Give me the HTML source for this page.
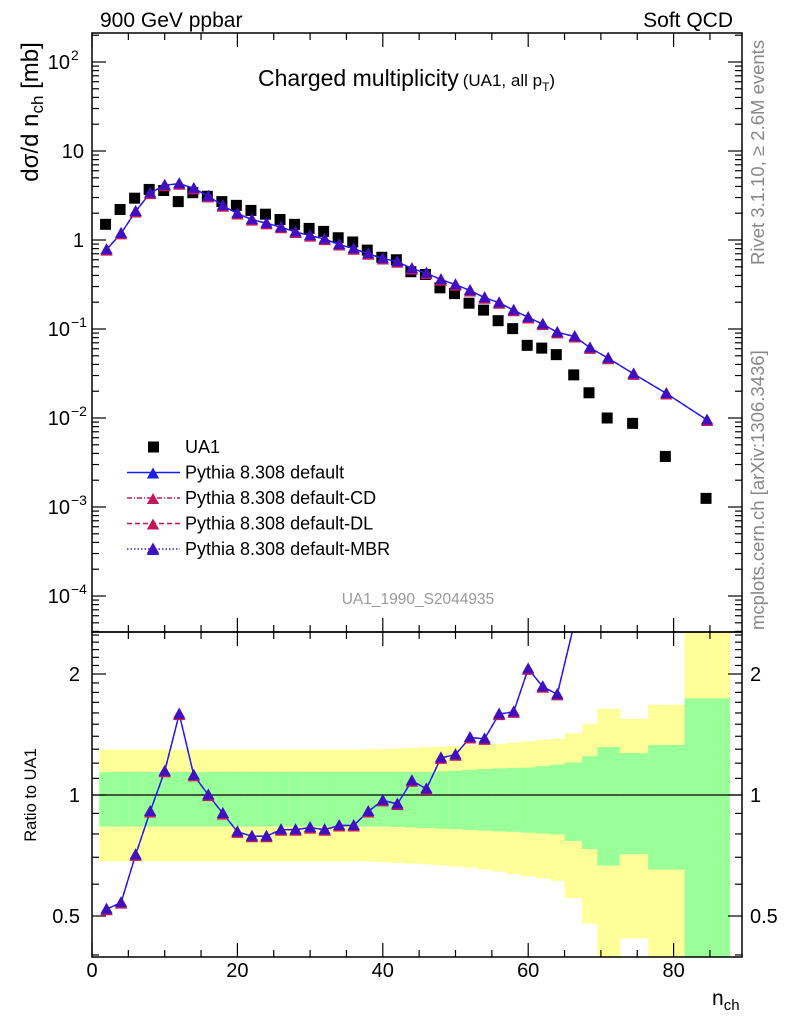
<!DOCTYPE html>
<html><head><meta charset="utf-8">
<style>
body{margin:0;background:#fff;}
svg{display:block;font-family:"Liberation Sans",sans-serif;}
</style></head>
<body>
<svg id="c" width="786" height="1024" viewBox="0 0 786 1024">
<defs>
<clipPath id="cm"><rect x="92" y="33" width="650" height="599"/></clipPath>
<clipPath id="cr"><rect x="92" y="632" width="650" height="325"/></clipPath>
</defs>
<g id="bands" clip-path="url(#cr)"></g>
<g id="ticks"></g>
<line x1="92" y1="795" x2="742" y2="795" stroke="#000" stroke-width="1.3"/>
<g id="main" clip-path="url(#cm)"></g>
<g id="ratio" clip-path="url(#cr)"></g>
<rect x="92" y="33" width="650" height="599" fill="none" stroke="#000" stroke-width="1.5"/>
<rect x="92" y="632" width="650" height="325" fill="none" stroke="#000" stroke-width="1.5"/>
<text x="100" y="27" font-size="21">900 GeV ppbar</text>
<text x="733" y="27" font-size="21" text-anchor="end">Soft QCD</text>
<text x="258" y="86" font-size="23">Charged multiplicity<tspan font-size="17" dx="4">(UA1, all p</tspan><tspan font-size="12" dy="5">T</tspan><tspan font-size="17" dy="-5">)</tspan></text>
<text transform="translate(38,112) rotate(-90)" font-size="24" text-anchor="middle">dσ/d n<tspan font-size="17" dy="5">ch</tspan><tspan dy="-5"> [mb]</tspan></text>
<text transform="translate(36,795) rotate(-90)" font-size="16.5" text-anchor="middle">Ratio to UA1</text>
<text x="712" y="1005" font-size="21">n<tspan font-size="15" dy="5">ch</tspan></text>
<text transform="translate(764,265) rotate(-90)" font-size="18.5" fill="#888">Rivet 3.1.10, ≥ 2.6M events</text>
<text transform="translate(764,630) rotate(-90)" font-size="18.5" fill="#888">mcplots.cern.ch [arXiv:1306.3436]</text>
<text x="418" y="604" font-size="15.5" fill="#999" text-anchor="middle">UA1_1990_S2044935</text>
<g id="legend"></g>
</svg>
<script>
const centers=[2,4,6,8,10,12,14,16,18,20,22,24,26,28,30,32,34,36,38,40,42,44,46,48,50,52,54,56,58,60,62,64,66.4,68.5,71,74.5,79,84.6];
const edges=[1,3,5,7,9,11,13,15,17,19,21,23,25,27,29,31,33,35,37,39,41,43,45,47,49,51,53,55,57,59,61,63,65,67.4,69.5,72.6,76.5,81.5,87.7];
const ua1Values=[1.5,2.2,2.95,3.7,3.6,2.7,3.4,3.1,2.7,2.45,2.15,1.95,1.7,1.5,1.35,1.25,1.06,0.95,0.77,0.64,0.6,0.44,0.41,0.29,0.25,0.195,0.163,0.124,0.101,0.0655,0.061,0.0515,0.0305,0.0192,0.01,0.0087,0.0037,0.00125];
const ratioValues=[0.52,0.54,0.71,0.91,1.146,1.59,1.12,1.0,0.90,0.81,0.79,0.79,0.82,0.82,0.83,0.82,0.84,0.84,0.91,0.97,0.95,1.085,1.036,1.237,1.26,1.39,1.38,1.59,1.61,2.06,1.86,1.78,2.7,3.2,4.7,3.6,5.1,7.6];
const greenUp=[1.14,1.14,1.14,1.14,1.14,1.14,1.14,1.14,1.14,1.14,1.14,1.14,1.14,1.14,1.14,1.14,1.14,1.14,1.14,1.14,1.14,1.14,1.14,1.145,1.15,1.155,1.16,1.165,1.168,1.17,1.18,1.19,1.205,1.249,1.316,1.271,1.331,1.74];
const greenDn=[0.835,0.835,0.835,0.835,0.835,0.835,0.835,0.835,0.835,0.835,0.835,0.835,0.835,0.835,0.835,0.835,0.835,0.835,0.835,0.835,0.833,0.83,0.828,0.825,0.822,0.818,0.815,0.812,0.81,0.806,0.802,0.798,0.769,0.734,0.668,0.713,0.652,0.3];
const yellowUp=[1.296,1.296,1.296,1.296,1.296,1.296,1.296,1.296,1.296,1.296,1.296,1.296,1.296,1.296,1.296,1.296,1.296,1.296,1.298,1.30,1.305,1.31,1.315,1.32,1.325,1.33,1.335,1.34,1.35,1.36,1.37,1.38,1.424,1.5,1.639,1.546,1.677,3];
const yellowDn=[0.684,0.684,0.684,0.684,0.684,0.684,0.684,0.684,0.684,0.684,0.684,0.684,0.684,0.684,0.684,0.684,0.684,0.684,0.683,0.681,0.678,0.675,0.672,0.668,0.664,0.66,0.652,0.645,0.636,0.627,0.62,0.612,0.554,0.479,0.3,0.44,0.3,0.3];
const mainTicks=[2,1,0,-1,-2,-3,-4];
const mainTickLabels=["10","10","1","10","10","10","10"];
const mainTickExps=["2","","","−1","−2","−3","−4"];
const ratioTicks=[2,1,0.5];
const ratioTickLabels=["2","1","0.5"];
const xTicks=[0,20,40,60,80];
const legendLabels=["UA1","Pythia 8.308 default","Pythia 8.308 default-CD","Pythia 8.308 default-DL","Pythia 8.308 default-MBR"];

const NS="http://www.w3.org/2000/svg";
const xS=n=>92+7.27*n;
const yM=v=>240-89*Math.log10(v);
const yR=r=>795-402*Math.log10(r);
function mk(tag,attrs,parent){const e=document.createElementNS(NS,tag);for(const k in attrs)e.setAttribute(k,attrs[k]);parent.appendChild(e);return e;}

const bands=document.getElementById('bands');
for(let i=0;i<centers.length;i++){
  const x0=xS(edges[i]),x1=xS(edges[i+1]);
  const y=mk('rect',{x:x0,y:yR(yellowUp[i]),width:x1-x0+0.5,height:yR(yellowDn[i])-yR(yellowUp[i]),fill:'#ffff99'},bands);
  
  
  const g=mk('rect',{x:x0,y:yR(greenUp[i]),width:x1-x0+0.5,height:yR(greenDn[i])-yR(greenUp[i]),fill:'#99ff99'},bands);
  
  
}

function tri(cx,cy,col,parent,s){return mk('polygon',{points:`${cx},${cy-s} ${cx-s*0.95},${cy+s*0.7} ${cx+s*0.95},${cy+s*0.7}`,fill:col},parent);}
function series(parent,yf,vals){
  const pts=centers.map((c,i)=>xS(c)+','+yf(vals[i])).join(' ');
  const l2=mk('polyline',{points:pts,fill:'none',stroke:'#c0185a','stroke-width':1.5,'stroke-dasharray':'5,3'},parent);
  
  
  const l1=mk('polyline',{points:pts,fill:'none',stroke:'#1a1aff','stroke-width':1.4},parent);
  
  
  centers.forEach((c,i)=>{
    const t1=tri(xS(c),yf(vals[i])+1.5,'#c0185a',parent,6.5);
    
    
    const t2=tri(xS(c),yf(vals[i]),'#4010c0',parent,6.5);
    
    
  });
}
const mcValues=ua1Values.map((v,i)=>v*ratioValues[i]);
const main=document.getElementById('main');
centers.forEach((c,i)=>{
  const s=mk('rect',{x:xS(c)-6.5,y:yM(ua1Values[i])-5.5,width:11,height:11,fill:'#000'},main);
  
  
});
series(main,yM,mcValues);
series(document.getElementById('ratio'),yR,ratioValues);

const tk=document.getElementById('ticks');
function ln(x1,y1,x2,y2,p){mk('line',{x1,y1,x2,y2,stroke:'#000','stroke-width':1.2},p);}
for(let n=0;n<=85;n+=5){
  const L=(n%20===0)?14:7, x=xS(n);
  ln(x,632,x,632-L,tk);ln(x,33,x,33+L,tk);
  ln(x,957,x,957-L,tk);ln(x,632,x,632+L,tk);
}
for(let d=-5;d<=2;d++){
  for(let m=1;m<10;m++){
    const y=yM(m*Math.pow(10,d)); if(y<33||y>632)continue;
    const L=m===1?14:7; ln(92,y,92+L,y,tk);ln(742,y,742-L,y,tk);
  }
}
[0.4,0.5,0.6,0.7,0.8,0.9,1,1.1,1.2,1.3,1.4,1.5,1.6,1.7,1.8,1.9,2,2.1,2.2,2.3,2.4,2.5].forEach(r=>{
  const y=yR(r); if(y<632||y>957)return;
  const L=(r===0.5||r===1||r===2)?14:7; ln(92,y,92+L,y,tk);ln(742,y,742-L,y,tk);
});
mainTicks.forEach((e,i)=>{
  const y=yM(Math.pow(10,e));
  const t=mk('text',{x:mainTickExps[i]?70:84,y:y+7,'font-size':20,'text-anchor':'end'},tk);
  t.textContent=mainTickLabels[i];
  
  
  if(mainTickExps[i]){const s=mk('text',{x:71,y:y-2,'font-size':14},tk);s.textContent=mainTickExps[i];
    
    }
});
ratioTicks.forEach((r,i)=>{
  const y=yR(r);
  const a=mk('text',{x:80,y:y+7,'font-size':20,'text-anchor':'end'},tk);a.textContent=ratioTickLabels[i];
  
  
  const b=mk('text',{x:750,y:y+7,'font-size':20},tk);b.textContent=ratioTickLabels[i];
  
  
});
xTicks.forEach(n=>{
  const t=mk('text',{x:xS(n),y:977,'font-size':20,'text-anchor':'middle'},tk);t.textContent=n;
  
  
});

const lg=document.getElementById('legend');
legendLabels.forEach((lab,i)=>{
  const y=447+25.5*i;
  if(i===0){const s=mk('rect',{x:148,y:y-5.5,width:11,height:11,fill:'#000'},lg);
    
    }
  else{
    const col=i===1?'#1a1aff':(i===4?'#3a20d0':'#c0185a');
    const dash=i===1?'':(i===2?'5,2,1,2':(i===3?'5,3':'1.5,2'));
    mk('line',{x1:127,y1:y,x2:180,y2:y,stroke:col,'stroke-width':1.4,'stroke-dasharray':dash},lg);
    tri(153,y+1.5,i===1||i===4?'#2020e0':'#c0185a',lg,6.5);
    if(i===4)tri(153,y,'#4010c0',lg,6.5);
  }
  const t=mk('text',{x:185,y:y+6,'font-size':18},lg);t.textContent=lab;
  
  
});
</script>
</body></html>
